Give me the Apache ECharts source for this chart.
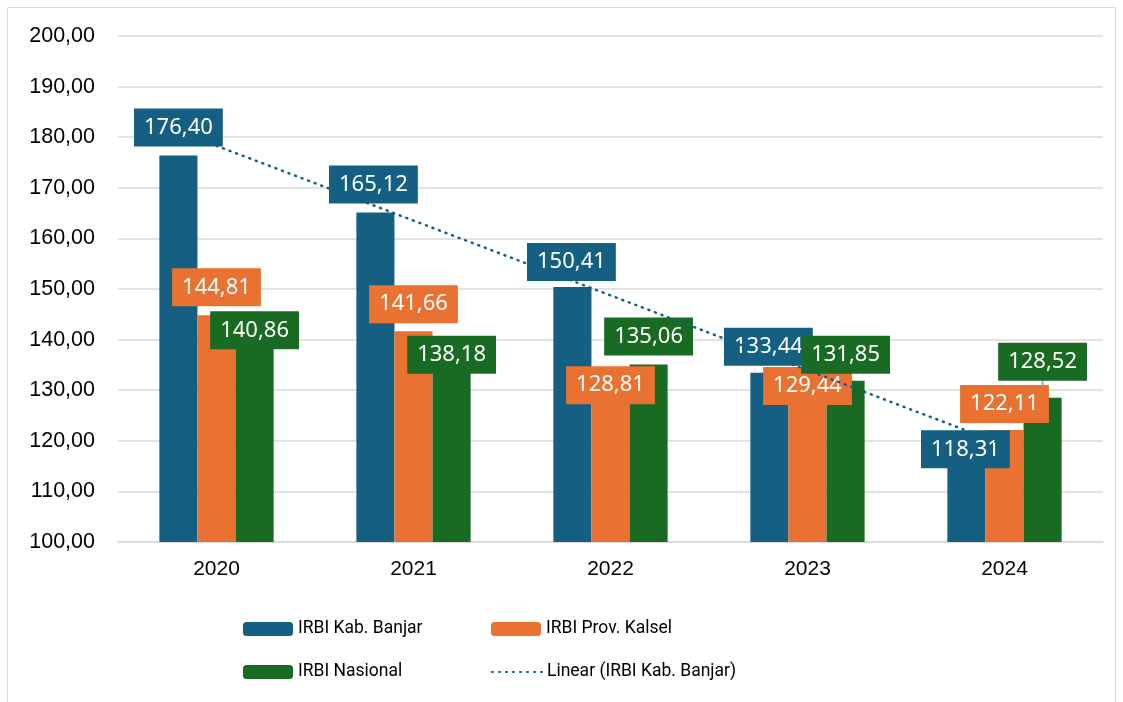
<!DOCTYPE html>
<html>
<head>
    <meta charset="utf-8">
    <title>IRBI</title>
    <script src="https://cdn.jsdelivr.net/npm/echarts@6/dist/echarts.min.js"></script>
    <style>
        html, body { margin: 0; padding: 0; background: #fff; }
        #main { width: 1123px; height: 702px; }
    </style>
</head>
<body>
<div id="main"></div>
<script>
    // data
    var years = ['2020', '2021', '2022', '2023', '2024'];
    var banjar = [176.40, 165.12, 150.41, 133.44, 118.31];
    var kalsel = [144.81, 141.66, 128.81, 129.44, 122.11];
    var nasional = [140.86, 138.18, 135.06, 131.85, 128.52];
    // linear trend of Kab. Banjar
    var trend = [178.31, 163.52, 148.74, 133.95, 119.16];

    // label nudges (px) to follow the hand-placed labels
    var banjarOff = [[0, -4], [-2, -4], [-1, -1], [-1, -2], [-1, 24]];
    var kalselOff = [[0, -4], [0, -3], [0, 13], [0, 17], [0, -2]];
    var nasionalOff = [[0, 19], [0, 30], [0, -4], [0, -2], [0, -12]];

    var fontFam = '"Noto Sans", Inter, sans-serif';
    var axisFam = '"Liberation Sans", Arial, sans-serif';
    var legendFam = 'Roboto, "Liberation Sans", sans-serif';
    var fmt = function (v) { return v.toFixed(2).replace('.', ','); };

    function barSeries(name, vals, offs, color) {
        return {
            name: name,
            type: 'bar',
            barGap: '0%',
            barCategoryGap: '42%',
            itemStyle: { color: color },
            label: {
                show: true,
                position: 'top',
                distance: 5,
                formatter: function (p) { return fmt(p.value); },
                color: '#fff',
                backgroundColor: color,
                fontFamily: fontFam,
                fontSize: 22,
                lineHeight: 22,
                padding: [8, 10, 8, 10]
            },
            labelLine: { show: false, lineStyle: { color: '#A6A6A6', width: 2 } },
            labelLayout: function (p) {
                return { dx: offs[p.dataIndex][0], dy: offs[p.dataIndex][1] };
            },
            data: vals.map(function (v) { return { value: v }; })
        };
    }

    var chart = echarts.init(document.getElementById('main'));

    var nas = barSeries('IRBI Nasional', nasional, nasionalOff, '#196B24');
    // 2024 label is lifted off its bar with a small leader line
    nas.data[4].labelLine = { show: true };

    var option = {
        animation: false,
        grid: { left: 118, right: 20, top: 36, bottom: 160 },
        graphic: [{
            type: 'rect',
            shape: { x: 7.5, y: 7.5, width: 1108, height: 700 },
            style: { fill: 'none', stroke: '#D9D9D9', lineWidth: 1 },
            silent: true
        }],
        legend: [
            { data: ['IRBI Kab. Banjar'], left: 243, top: 620 },
            { data: ['IRBI Prov. Kalsel'], left: 491, top: 620 },
            { data: ['IRBI Nasional'], left: 243, top: 663 },
            { data: ['Linear (IRBI Kab. Banjar)'], left: 491, top: 663, itemStyle: { opacity: 0 } }
        ].map(function (l) {
            l.padding = 0;
            l.itemWidth = 50;
            l.itemHeight = 14;
            l.itemGap = 6;
            l.textStyle = { fontFamily: legendFam, fontSize: 17.5, color: '#000' };
            return l;
        }),
        xAxis: {
            type: 'category',
            data: years,
            axisTick: { show: false },
            axisLine: { lineStyle: { color: '#D9D9D9', width: 1.5 } },
            axisLabel: { color: '#000', fontSize: 21, fontFamily: axisFam, margin: 17 }
        },
        yAxis: {
            type: 'value',
            min: 100,
            max: 200,
            interval: 10,
            axisLine: { show: false },
            axisTick: { show: false },
            splitLine: { lineStyle: { color: '#D9D9D9', width: 1.5 } },
            axisLabel: {
                color: '#000',
                fontSize: 21.5,
                fontFamily: axisFam,
                margin: 23,
                formatter: fmt
            }
        },
        series: [
            barSeries('IRBI Kab. Banjar', banjar, banjarOff, '#156082'),
            barSeries('IRBI Prov. Kalsel', kalsel, kalselOff, '#E97132'),
            nas,
            {
                name: 'Linear (IRBI Kab. Banjar)',
                type: 'line',
                data: trend,
                symbol: 'none',
                z: 2,
                lineStyle: { color: '#156082', width: 2.5, type: [1, 6], cap: 'round' },
                itemStyle: { color: '#156082' }
            }
        ]
    };
    chart.setOption(option);
</script>
</body>
</html>
